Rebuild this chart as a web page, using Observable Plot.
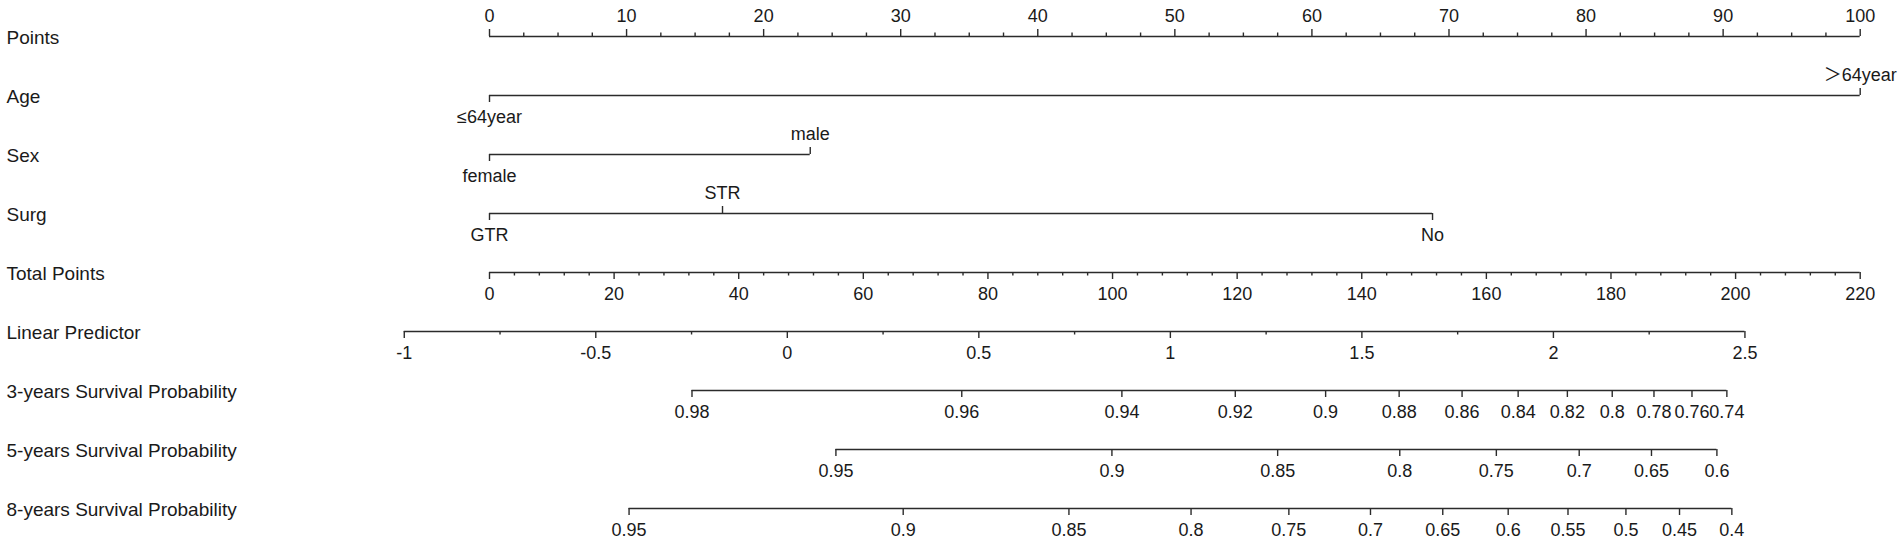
<!DOCTYPE html>
<html>
<head>
<meta charset="utf-8">
<script src="https://cdn.jsdelivr.net/npm/d3@7"></script>
<script src="https://cdn.jsdelivr.net/npm/@observablehq/plot@0.6"></script>
<style>
  body { margin: 0; background: #fff; }
  #chart svg { display: block; }
</style>
</head>
<body>
<div id="chart"></div>
<script>
// ---------- data ----------
const rowLabels = [
  "Points", "Age", "Sex", "Surg", "Total Points", "Linear Predictor",
  "3-years Survival Probability", "5-years Survival Probability", "8-years Survival Probability"
];

// Points axis
const pointsMajor = [0, 10, 20, 30, 40, 50, 60, 70, 80, 90, 100];
const pointsMinorStep = 2.5;

// Predictors: levels and their points
const ageLevels = ["≤64year", "＞64year"];
const agePoints = [0, 100];
const sexLevels = ["female", "male"];
const sexPoints = [0, 23.4];
const surgLevels = ["GTR", "STR", "No"];
const surgPoints = [0, 17.0, 68.8];

// Total points axis
const totalMajor = [0, 20, 40, 60, 80, 100, 120, 140, 160, 180, 200, 220];
const totalMinorStep = 4;

// Linear predictor axis (two reference values and their total-points positions)
const lpMajor = [-1, -0.5, 0, 0.5, 1, 1.5, 2, 2.5];
const lpMinorStep = 0.25;
const lpRefValues = [0, 2.5];
const lpRefTotal = [47.8, 201.5];

// Survival probability axes: tick labels and their total-points positions
const surv3Labels = ["0.98", "0.96", "0.94", "0.92", "0.9", "0.88", "0.86", "0.84", "0.82", "0.8", "0.78", "0.76", "0.74"];
const surv3Total  = [32.5, 75.8, 101.5, 119.7, 134.2, 146.0, 156.1, 165.1, 173.0, 180.2, 186.9, 193.0, 198.6];
const surv5Labels = ["0.95", "0.9", "0.85", "0.8", "0.75", "0.7", "0.65", "0.6"];
const surv5Total  = [55.6, 99.9, 126.5, 146.1, 161.6, 174.9, 186.5, 197.0];
const surv8Labels = ["0.95", "0.9", "0.85", "0.8", "0.75", "0.7", "0.65", "0.6", "0.55", "0.5", "0.45", "0.4"];
const surv8Total  = [22.4, 66.4, 93.0, 112.6, 128.3, 141.4, 153.0, 163.5, 173.1, 182.4, 191.0, 199.4];

// ---------- build mark tables ----------
const pointsMax = d3.max(pointsMajor);
const totalMax = d3.max(totalMajor);
const p2t = totalMax / pointsMax; // the points axis spans the same width as the total points axis
const lpPerUnit = (lpRefTotal[1] - lpRefTotal[0]) / (lpRefValues[1] - lpRefValues[0]);
const lpToTotal = v => lpRefTotal[0] + (v - lpRefValues[0]) * lpPerUnit;

const lines = [];
const ticks = [];   // kind: upMajor, upMinor, downMajor, downMinor
const labels = [];  // pos: above / below

// Points row
{
  const row = rowLabels[0];
  lines.push({row, x1: 0, x2: pointsMax * p2t});
  d3.range(0, pointsMax + 1e-9, pointsMinorStep).forEach(v => {
    const major = pointsMajor.includes(v);
    ticks.push({row, x: v * p2t, kind: major ? "upMajor" : "upMinor"});
  });
  pointsMajor.forEach(v => labels.push({row, x: v * p2t, text: String(v), pos: "above"}));
}

// Predictor rows
[[ageLevels, agePoints], [sexLevels, sexPoints], [surgLevels, surgPoints]].forEach(([levels, pts], k) => {
  const row = rowLabels[k + 1];
  lines.push({row, x1: d3.min(pts) * p2t, x2: d3.max(pts) * p2t});
  levels.forEach((lev, i) => {
    const above = i % 2 === 1;
    ticks.push({row, x: pts[i] * p2t, kind: above ? "upMajor" : "downMajor"});
    labels.push({row, x: pts[i] * p2t, text: lev, pos: above ? "above" : "below"});
  });
});

// Total points row
{
  const row = rowLabels[4];
  lines.push({row, x1: 0, x2: totalMax});
  d3.range(0, totalMax + 1e-9, totalMinorStep).forEach(v => {
    const major = totalMajor.includes(v);
    ticks.push({row, x: v, kind: major ? "downMajor" : "downMinor"});
  });
  totalMajor.forEach(v => labels.push({row, x: v, text: String(v), pos: "below"}));
}

// Linear predictor row
{
  const row = rowLabels[5];
  const lo = d3.min(lpMajor), hi = d3.max(lpMajor);
  lines.push({row, x1: lpToTotal(lo), x2: lpToTotal(hi)});
  d3.range(lo, hi + 1e-9, lpMinorStep).forEach(v => {
    const major = lpMajor.some(m => Math.abs(m - v) < 1e-9);
    ticks.push({row, x: lpToTotal(v), kind: major ? "downMajor" : "downMinor"});
  });
  lpMajor.forEach(v => labels.push({row, x: lpToTotal(v), text: String(v), pos: "below"}));
}

// Survival rows
[[surv3Labels, surv3Total], [surv5Labels, surv5Total], [surv8Labels, surv8Total]].forEach(([labs, pos], k) => {
  const row = rowLabels[6 + k];
  lines.push({row, x1: d3.min(pos), x2: d3.max(pos)});
  labs.forEach((t, i) => {
    ticks.push({row, x: pos[i], kind: "downMajor"});
    labels.push({row, x: pos[i], text: t, pos: "below"});
  });
});

// ---------- plot ----------
const ink = "#2b2b2b";
const lineW = 1.4;
const tick = (kind, top, bottom) =>
  Plot.ruleX(ticks.filter(d => d.kind === kind), {
    x: "x", y1: "row", y2: "row", stroke: ink, strokeWidth: lineW, insetTop: top, insetBottom: bottom
  });

const chart = Plot.plot({
  width: 1902,
  height: 545,
  margin: 0,
  x: {domain: [0, totalMax], range: [489, 1859.7], axis: null},
  y: {type: "point", domain: rowLabels, range: [32.3, 511.3], padding: 0, axis: null},
  style: {fontFamily: "'Liberation Sans', Arial, 'Noto Sans CJK SC', sans-serif", background: "#fff", color: ink},
  marks: [
    Plot.ruleY(lines, {y: "row", x1: "x1", x2: "x2", stroke: ink, strokeWidth: lineW}),
    tick("upMajor", -7, 0),
    tick("upMinor", -3.5, 0),
    tick("downMajor", 0, -7),
    tick("downMinor", 0, -3.5),
    Plot.text(labels.filter(d => d.pos === "above"), {
      x: "x", y: "row", text: "text", dy: -20, fontSize: 18, fill: "#1a1a1a"
    }),
    Plot.text(labels.filter(d => d.pos === "below"), {
      x: "x", y: "row", text: "text", dy: 22, fontSize: 18, fill: "#1a1a1a"
    }),
    Plot.text(rowLabels, {
      y: d => d, text: d => d, frameAnchor: "left", textAnchor: "start",
      dx: 6, dy: 1, fontSize: 19, fill: "#1a1a1a"
    })
  ]
});

document.getElementById("chart").appendChild(chart);
</script>
</body>
</html>
